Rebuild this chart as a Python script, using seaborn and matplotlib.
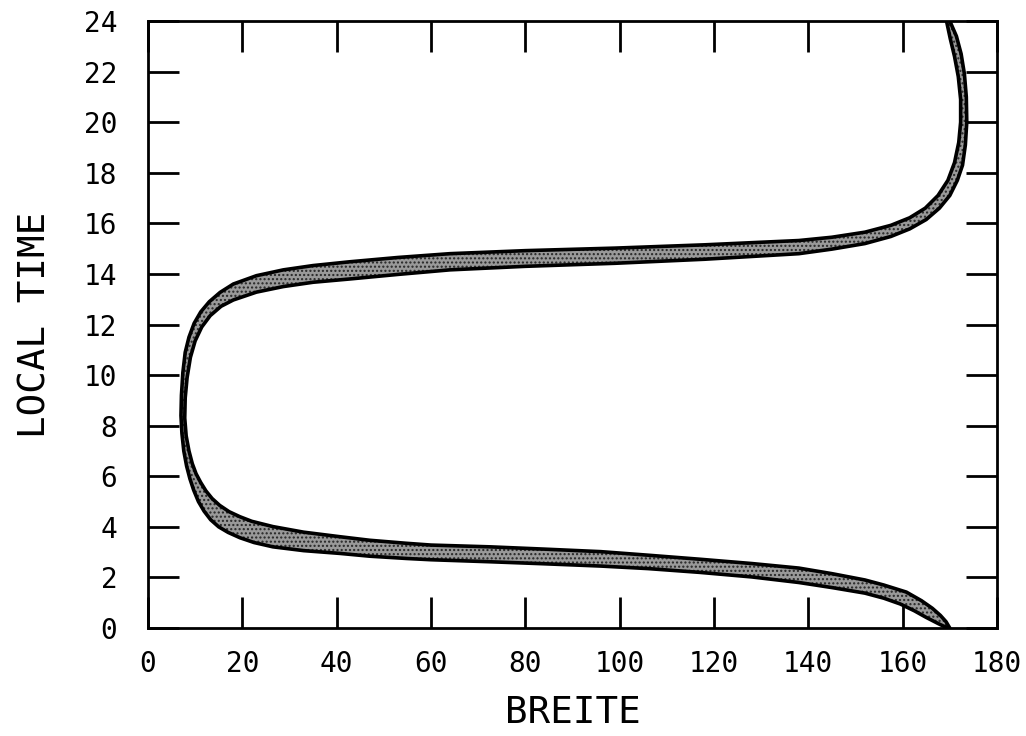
import numpy as np
import pandas as pd
import matplotlib
matplotlib.use("Agg")
import matplotlib.pyplot as plt
import seaborn as sns

# Left edge of the band (Breite in degrees, local time in hours), ordered by time
left_breite = [169.5, 167.5, 165.0, 162.5, 159.5, 156.0, 152.0, 145.0, 138.0, 128.0,
               117.0, 106.0, 96.0, 84.0, 72.5, 60.0, 54.8, 47.0, 40.7, 33.0,
               26.5, 22.5, 19.5, 17.0, 15.0, 13.3, 11.9, 10.7, 9.7, 8.9,
               8.2, 7.6, 7.2, 7.0, 7.1, 7.4, 7.9, 8.7, 9.8, 11.2,
               13.0, 15.3, 18.1, 23.0, 28.7, 35.0, 42.8, 53.0, 64.0, 80.0,
               99.0, 118.0, 138.0, 145.0, 152.0, 157.5, 161.5, 164.8, 167.5, 169.6,
               171.0, 171.9, 172.3, 172.3, 171.8, 171.0, 170.1, 169.3]
left_time = [0.0, 0.18, 0.42, 0.68, 0.95, 1.18, 1.38, 1.6, 1.8, 2.02,
             2.2, 2.35, 2.45, 2.54, 2.62, 2.7, 2.75, 2.84, 2.95, 3.06,
             3.21, 3.38, 3.57, 3.78, 4.0, 4.28, 4.62, 5.0, 5.45, 5.9,
             6.4, 7.0, 7.7, 8.4, 9.2, 10.1, 10.9, 11.5, 12.05, 12.5,
             12.9, 13.27, 13.6, 13.93, 14.16, 14.33, 14.48, 14.65, 14.8, 14.92,
             15.02, 15.15, 15.32, 15.45, 15.65, 15.92, 16.22, 16.6, 17.1, 17.7,
             18.4, 19.2, 20.0, 20.9, 21.8, 22.6, 23.3, 24.0]

# Right edge of the band, ordered by time
right_breite = [170.0, 169.2, 168.0, 166.3, 164.0, 160.8, 156.0, 152.0, 145.0, 138.0,
                128.0, 117.0, 106.0, 96.0, 84.0, 72.5, 60.0, 54.8, 47.0, 40.7,
                33.0, 26.5, 22.0, 19.5, 17.2, 15.2, 13.6, 12.3, 11.2, 10.2,
                9.4, 8.7, 8.1, 7.8, 7.9, 8.3, 9.0, 10.0, 11.4, 13.2,
                15.5, 18.1, 23.0, 28.7, 35.0, 42.8, 53.0, 64.0, 80.0, 99.0,
                118.0, 138.0, 145.0, 152.0, 157.5, 161.5, 165.0, 167.8, 170.0, 171.6,
                172.7, 173.3, 173.6, 173.5, 173.1, 172.4, 171.4, 170.0]
right_time = [0.0, 0.25, 0.5, 0.78, 1.08, 1.42, 1.7, 1.9, 2.15, 2.37,
              2.55, 2.72, 2.88, 3.02, 3.12, 3.21, 3.28, 3.35, 3.47, 3.61,
              3.79, 4.01, 4.22, 4.40, 4.6, 4.85, 5.12, 5.42, 5.75, 6.1,
              6.5, 7.0, 7.6, 8.3, 9.1, 9.9, 10.7, 11.35, 11.9, 12.35,
              12.72, 12.97, 13.28, 13.5, 13.67, 13.8, 13.98, 14.16, 14.3, 14.42,
              14.58, 14.8, 14.98, 15.2, 15.48, 15.78, 16.15, 16.6, 17.1, 17.7,
              18.3, 19.1, 20.0, 21.0, 21.9, 22.7, 23.4, 24.0]

x_ticks = list(range(0, 181, 20))
y_ticks = list(range(0, 25, 2))

sns.set_theme(style="ticks")
plt.rcParams["font.family"] = ["DejaVu Sans Mono", "DejaVu Sans"]

fig, ax = plt.subplots(figsize=(10.26, 7.36), dpi=100)
fig.subplots_adjust(left=0.1442, right=0.9717, bottom=0.1467, top=0.9715)

# Stippled interior of the band
band_x = np.r_[left_breite, right_breite[::-1]]
band_y = np.r_[left_time, right_time[::-1]]
ax.fill(band_x, band_y, facecolor="0.6", edgecolor="none", zorder=2)
ax.fill(band_x, band_y, facecolor="none", edgecolor="0.15", hatch="....",
        linewidth=0, zorder=2)

# Band edges
left_df = pd.DataFrame({"breite": left_breite, "time": left_time})
right_df = pd.DataFrame({"breite": right_breite, "time": right_time})
for df in (left_df, right_df):
    sns.lineplot(data=df, x="breite", y="time", sort=False, estimator=None,
                 color="black", linewidth=2.6, ax=ax, zorder=3)

ax.set_xlim(0, 180)
ax.set_ylim(0, 24)
ax.set_xticks(x_ticks)
ax.set_yticks(y_ticks)
ax.tick_params(axis="both", direction="in", length=22, width=2, top=True,
               right=True, labelsize=20, colors="black")
ax.tick_params(axis="x", pad=16)
ax.tick_params(axis="y", pad=22)
for spine in ax.spines.values():
    spine.set_linewidth(2)
    spine.set_color("black")

ax.set_xlabel("BREITE", fontsize=27, labelpad=12, color="black")
ax.set_ylabel("LOCAL TIME", fontsize=27, labelpad=22, color="black")

fig.savefig("out.png", dpi=100)
